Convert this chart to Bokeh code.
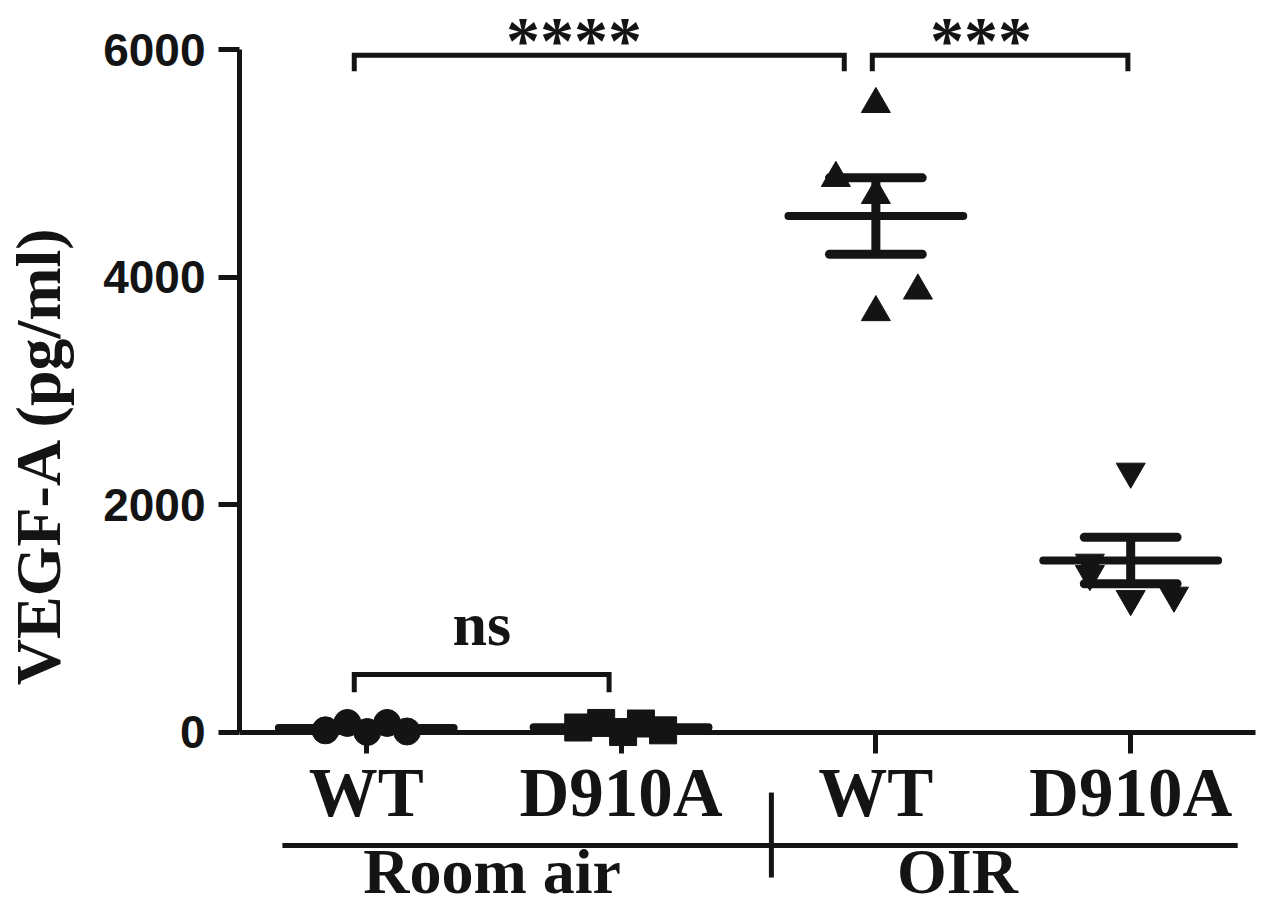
import numpy as np
from bokeh.plotting import figure
from bokeh.models import Range1d, LinearAxis, FixedTicker, ColumnDataSource
from bokeh.core.properties import value
from bokeh.embed import file_html
from bokeh.resources import INLINE

# ---------------- data ----------------
categories = ["WT", "D910A", "WT", "D910A"]
conditions = ["Room air", "OIR"]
ra_wt = [15, 80, 0, 80, 5]
ra_d910a = [40, 80, 0, 75, 15]
oir_wt = [5520, 4870, 4720, 3880, 3690]
oir_d910a = [2290, 1490, 1390, 1170, 1200]
y_ticks = [0, 2000, 4000, 6000]
comparisons = [("ns", 1, 2), ("****", 1, 3), ("***", 3, 4)]

# ---------------- styling / placement ----------------
series = [ra_wt, ra_d910a, oir_wt, oir_d910a]
positions = [1, 2, 3, 4]
jitter = [
    [-0.16, -0.074, 0.004, 0.082, 0.16],
    [-0.168, -0.078, 0.008, 0.078, 0.165],
    [0.0, -0.157, 0.0, 0.165, 0.0],
    [0.0, -0.16, -0.16, 0.0, 0.17],
]
markers = ["circle", "square", "triangle", "inverted_triangle"]
marker_sizes = [27, 27, 29, 29]
INK = "#141414"
SERIF = "Liberation Serif"
SANS = "Liberation Sans"

p = figure(width=1266, height=909,
           x_range=Range1d(0.5026, 4.533), y_range=Range1d(-1560, 6431),
           output_backend="svg", toolbar_location=None,
           x_axis_type=None, y_axis_type=None,
           min_border_left=237, min_border_right=0,
           min_border_top=0, min_border_bottom=0)
p.outline_line_color = None
p.background_fill_color = "white"
p.border_fill_color = "white"

# y axis
yaxis = LinearAxis(ticker=FixedTicker(ticks=y_ticks), bounds=(0, 6000),
                   axis_line_width=5, axis_line_color=INK,
                   major_tick_line_width=5, major_tick_line_color=INK,
                   major_tick_out=21, major_tick_in=0,
                   minor_tick_out=0, minor_tick_in=0,
                   major_label_standoff=13,
                   major_label_text_font=SANS, major_label_text_font_style="bold",
                   major_label_text_font_size="46px", major_label_text_color=INK,
                   axis_label="VEGF-A (pg/ml)", axis_label_text_font=SERIF,
                   axis_label_text_font_style="bold", axis_label_text_font_size="64px",
                   axis_label_text_color=INK, axis_label_standoff=26)
p.add_layout(yaxis, "left")

# x axis (at y = 0)
xaxis = LinearAxis(fixed_location=0, ticker=FixedTicker(ticks=positions),
                   major_label_overrides={pos: lab for pos, lab in zip(positions, categories)},
                   bounds=(0.5026, 4.49),
                   axis_line_width=5, axis_line_color=INK,
                   major_tick_line_width=5, major_tick_line_color=INK,
                   major_tick_out=21, major_tick_in=0,
                   minor_tick_out=0, minor_tick_in=0,
                   major_label_standoff=2,
                   major_label_text_font=SERIF, major_label_text_font_style="bold",
                   major_label_text_font_size="69px", major_label_text_color=INK)
p.add_layout(xaxis, "below")

# points
for pos, vals, jit, mk, sz in zip(positions, series, jitter, markers, marker_sizes):
    src = ColumnDataSource(dict(x=[pos + j for j in jit], y=vals))
    p.scatter("x", "y", source=src, marker=mk, size=sz,
              fill_color=INK, line_color=INK, line_width=1)

# mean +/- SEM
means = [float(np.mean(v)) for v in series]
sems = [float(np.std(v, ddof=1) / np.sqrt(len(v))) for v in series]
mean_half = 0.343
cap_half = 0.182
p.segment(x0=[x - mean_half for x in positions], y0=means,
          x1=[x + mean_half for x in positions], y1=means,
          line_width=8, line_color=INK, line_cap="round")
p.segment(x0=positions, y0=[m - s for m, s in zip(means, sems)],
          x1=positions, y1=[m + s for m, s in zip(means, sems)],
          line_width=9, line_color=INK)
for sign in (-1, 1):
    p.segment(x0=[x - cap_half for x in positions],
              y0=[m + sign * s for m, s in zip(means, sems)],
              x1=[x + cap_half for x in positions],
              y1=[m + sign * s for m, s in zip(means, sems)],
              line_width=9, line_color=INK, line_cap="round")

# significance brackets
bracket_geom = {
    "ns": dict(x0=-0.047, x1=-0.047, top=505, leg=350, tx=1.454, ty=954, size="62px"),
    "****": dict(x0=-0.047, x1=-0.124, top=5950, leg=5810, tx=1.815, ty=6088, size="68px"),
    "***": dict(x0=-0.014, x1=-0.011, top=5950, leg=5810, tx=3.413, ty=6088, size="68px"),
}
for lab, a, b in comparisons:
    g = bracket_geom[lab]
    xa = a + g["x0"]
    xb = b + g["x1"]
    p.multi_line(xs=[[xa, xa, xb, xb]], ys=[[g["leg"], g["top"], g["top"], g["leg"]]],
                 line_width=5, line_color=INK, line_join="miter")
    p.text(x=[g["tx"]], y=[g["ty"]], text=[lab], text_align="center",
           text_baseline="alphabetic", text_font=value(SERIF),
           text_font_style="bold", text_font_size=g["size"], text_color=INK)

# group axis (Room air / OIR)
p.segment(x0=[0.671], y0=[-998], x1=[4.42], y1=[-998], line_width=5, line_color=INK)
p.segment(x0=[2.59], y0=[-532], x1=[2.59], y1=[-1279], line_width=5, line_color=INK)
p.text(x=[1.494, 3.32], y=[-1226, -1226], text=conditions, text_align="center",
       text_baseline="alphabetic", text_font=value(SERIF), text_font_style="bold",
       text_font_size="64px", text_color=INK)

open("out.html", "w").write(file_html(p, INLINE))
